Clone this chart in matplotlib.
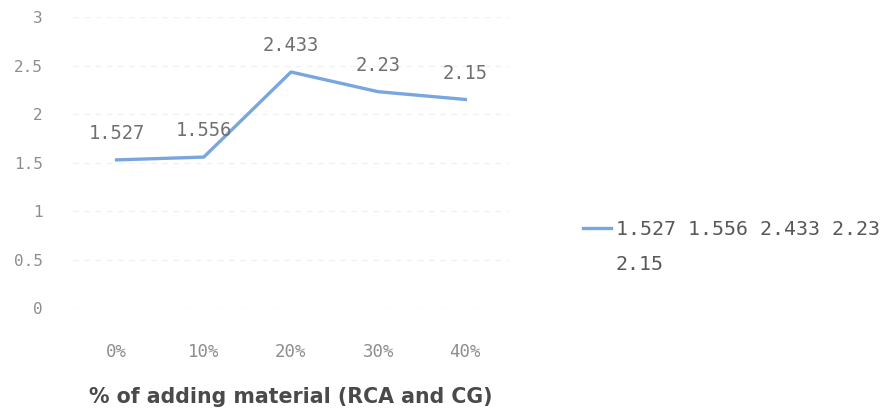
import matplotlib
matplotlib.use("Agg")
import matplotlib.pyplot as plt

categories = ["0%", "10%", "20%", "30%", "40%"]
values = [1.527, 1.556, 2.433, 2.23, 2.15]
series_name = "1.527 1.556 2.433 2.23"
series_name_rest = "2.15"
y_ticks = [0, 0.5, 1, 1.5, 2, 2.5, 3]
y_tick_labels = ["0", "0.5", "1", "1.5", "2", "2.5", "3"]

line_color = "#7aa6df"
mono = "DejaVu Sans Mono"

fig = plt.figure(figsize=(8.85, 4.12), dpi=100)
ax = fig.add_axes([0.0825, 0.2524, 0.4926, 0.7063])

x = list(range(len(categories)))
ax.plot(x, values, color=line_color, linewidth=2.4, label=series_name)

for xi, v in zip(x, values):
    ax.annotate(f"{v:g}", (xi, v), xytext=(0, 12), textcoords="offset points",
                ha="center", va="bottom", fontsize=13.5, color="#707070",
                family=mono)

ax.set_xlim(-0.5, len(categories) - 0.5)
ax.set_ylim(0, 3)
ax.set_yticks(y_ticks)
ax.set_yticklabels(y_tick_labels, family=mono)
ax.set_xticks(x)
ax.set_xticklabels(categories, family=mono)
ax.tick_params(axis="y", length=0, labelsize=11.5, labelcolor="#8e8e8e", pad=22)
ax.tick_params(axis="x", length=0, labelsize=12.5, labelcolor="#8e8e8e", pad=25)

ax.yaxis.grid(True, color="#f1f1f1", linewidth=1.0, linestyle=(0, (4, 4)))
ax.set_axisbelow(True)
for s in ax.spines.values():
    s.set_visible(False)

ax.set_xlabel("% of adding material (RCA and CG)", fontsize=14.8, color="#4a4a4a",
              fontweight="bold", labelpad=19)

leg = fig.legend(loc="center left", bbox_to_anchor=(0.659, 0.444), frameon=False,
                 borderpad=0, borderaxespad=0, prop={"family": mono, "size": 14.3},
                 handlelength=1.4, handletextpad=0.25)
for t in leg.get_texts():
    t.set_color("#585858")
fig.text(0.695, 0.357, series_name_rest, ha="left", va="center",
         family=mono, fontsize=14.3, color="#585858")

fig.savefig("out.png", dpi=100, facecolor="white")
